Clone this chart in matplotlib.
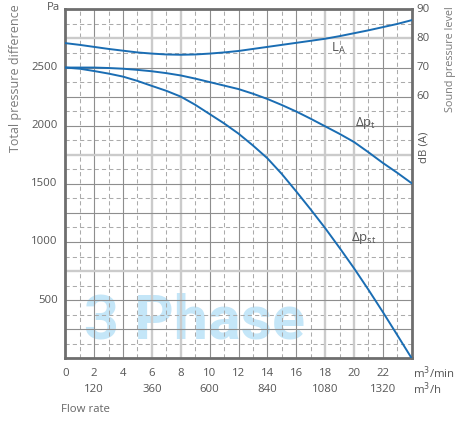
import matplotlib
matplotlib.use("Agg")
import matplotlib.pyplot as plt
import matplotlib.transforms as mtransforms
import numpy as np

plt.rcParams['font.family'] = ['Open Sans', 'DejaVu Sans']

# ---- data ----
flow_min = [0, 1, 2, 3, 4, 5, 6, 7, 8, 9, 10, 11, 12,
            13, 14, 15, 16, 17, 18, 19, 20, 21, 22, 23, 24]
dp_t = [2500, 2500, 2500, 2496, 2490, 2480, 2468, 2452, 2432, 2405, 2375, 2345, 2315,
        2275, 2230, 2178, 2122, 2060, 1995, 1930, 1860, 1772, 1680, 1595, 1505]
dp_st = [2500, 2490, 2470, 2448, 2422, 2385, 2342, 2300, 2250, 2180, 2100, 2020, 1932,
         1830, 1720, 1585, 1435, 1280, 1120, 950, 775, 590, 398, 200, 0]
la_db = [78.4, 77.8, 77.1, 76.4, 75.8, 75.2, 74.8, 74.5, 74.4, 74.5, 74.8, 75.2, 75.7,
         76.4, 77.1, 77.8, 78.5, 79.2, 79.9, 80.8, 81.8, 82.8, 83.9, 85.0, 86.3]

x_ticks = [0, 2, 4, 6, 8, 10, 12, 14, 16, 18, 20, 22]
m3h_ticks = [120, 360, 600, 840, 1080, 1320]
y_ticks = [500, 1000, 1500, 2000, 2500]
db_ticks = [60, 70, 80, 90]

W, H = 457, 421
fig = plt.figure(figsize=(W / 100, H / 100), dpi=100)
L, R, T, B = 65.3, 411.7, 9.4, 358.3
ax = fig.add_axes([L / W, 1 - B / H, (R - L) / W, (B - T) / H])
ax.set_xlim(0, 24)
ax.set_ylim(0, 3000)

dark = '#8e8e8e'
light = '#cbcbcb'
dash = '#ababab'
txt = '#555555'
blue = '#1a6db3'

# grid
for xv in range(1, 24, 2):
    ax.axvline(xv, color=dash, lw=0.75, ls=(0, (4, 3)), zorder=1)
for yv in range(125, 3000, 250):
    ax.axhline(yv, color=dash, lw=0.75, ls=(0, (4, 3)), zorder=1)
for xv in range(2, 24, 2):
    if xv in (6, 8, 18, 20):
        ax.axvline(xv, color=light, lw=1.7, zorder=1.1)
    else:
        ax.axvline(xv, color=dark, lw=0.8, zorder=1.1)
for yv in range(250, 3000, 250):
    if yv in (2750, 1750, 750):
        ax.axhline(yv, color=light, lw=1.7, zorder=1.1)
    else:
        ax.axhline(yv, color=dark, lw=0.8, zorder=1.1)

for s in ax.spines.values():
    s.set_color('#6e6e6e')
    s.set_linewidth(2.0)
ax.tick_params(length=0, labelbottom=False, labelleft=False)
ax.set_xticks([])
ax.set_yticks([])

# watermark
ax.text(8.95, 318, '3 Phase', fontsize=44, fontweight='bold', color='#c4e6f8',
        ha='center', va='center', zorder=0.5, family=['Roboto', 'DejaVu Sans'])

# curves
xs = np.array(flow_min, dtype=float)
ax.plot(xs, dp_t, color=blue, lw=1.4, zorder=3)
ax.plot(xs, dp_st, color=blue, lw=1.4, zorder=3)

ax2 = ax.twinx()
ax2.set_ylim(-30, 90)
ax2.plot(xs, la_db, color=blue, lw=1.4, zorder=3)
ax2.set_yticks([])
for s in ax2.spines.values():
    s.set_visible(False)

# tick labels
fs = 8.2
tr_y = mtransforms.blended_transform_factory(fig.transFigure, ax.transData)
for yv in y_ticks:
    ax.text(57.8 / W, yv, str(yv), transform=tr_y, ha='right', va='center',
            fontsize=fs, color=txt)
tr_y2 = mtransforms.blended_transform_factory(fig.transFigure, ax2.transData)
for dv in db_ticks:
    ax2.text(416.5 / W, dv, str(dv), transform=tr_y2, ha='left', va='center',
             fontsize=fs, color=txt)
tr_x = mtransforms.blended_transform_factory(ax.transData, fig.transFigure)
for xv in x_ticks:
    ax.text(xv, 1 - 373 / H, str(xv), transform=tr_x, ha='center', va='center',
            fontsize=fs, color=txt)
for mv in m3h_ticks:
    ax.text(mv / 60, 1 - 389 / H, str(mv), transform=tr_x, ha='center', va='center',
            fontsize=fs, color=txt)

fig.text(413 / W, 1 - 373 / H, 'm$^3$/min', ha='left', va='center', fontsize=fs, color=txt)
fig.text(413 / W, 1 - 389 / H, 'm$^3$/h', ha='left', va='center', fontsize=fs, color=txt)
fig.text(61 / W, 1 - 409 / H, 'Flow rate', ha='left', va='center', fontsize=fs, color='#666666')
fig.text(47 / W, 1 - 8 / H, 'Pa', ha='left', va='center', fontsize=fs, color=txt)
fig.text(16 / W, 1 - 78 / H, 'Total pressure difference', rotation=90, ha='center',
         va='center', fontsize=9.0, color='#7a7a7a')
fig.text(450 / W, 1 - 59 / H, 'Sound pressure level', rotation=90, ha='center',
         va='center', fontsize=7.8, color='#7a7a7a')
fig.text(424 / W, 1 - 147 / H, 'dB (A)', rotation=90, ha='center',
         va='center', fontsize=fs, color=txt)

# curve labels
lfs = 9.5
ax2.text(18.9, 76.6, '$\\mathregular{L_A}$', fontsize=lfs, color=txt, ha='center', va='center')
ax.text(20.8, 2025, '$\\mathregular{\\Delta p_t}$', fontsize=lfs, color=txt, ha='center', va='center')
ax.text(20.7, 1035, '$\\mathregular{\\Delta p_{st}}$', fontsize=lfs, color=txt, ha='center', va='center')

fig.savefig('out.png', dpi=100)
